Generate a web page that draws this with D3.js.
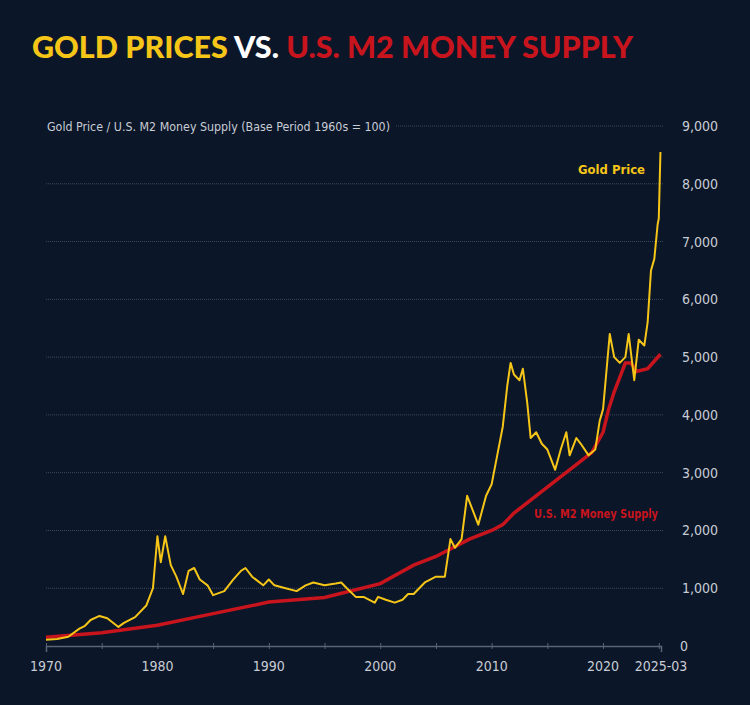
<!DOCTYPE html>
<html><head><meta charset="utf-8">
<script src="https://cdn.jsdelivr.net/npm/d3@7"></script>
<style>
body{margin:0;background:#0b1629;}
svg{display:block;}
.lbl{font-family:"DejaVu Sans Condensed","DejaVu Sans",sans-serif;}
</style></head>
<body><svg id="c" width="750" height="705"></svg>
<script>
var goldYears = [1970,1971,1972,1973,1973.5,1974,1974.8,1975.5,1976.5,1977,1978,1979,1979.6,1980,1980.3,1980.7,1981.2,1981.7,1982.3,1982.8,1983.3,1983.8,1984.5,1985,1986,1986.8,1987.5,1987.9,1988.5,1989.5,1990,1990.5,1991.5,1992.5,1993.3,1994,1995,1996,1996.5,1997,1997.8,1998.5,1999.5,1999.8,2000.5,2001.3,2002,2002.5,2003,2003.5,2004,2005,2005.8,2006.3,2006.7,2007.3,2007.8,2008.4,2008.8,2009.5,2010,2010.5,2011,2011.4,2011.7,2012,2012.5,2012.8,2013.2,2013.5,2014,2014.5,2015,2015.7,2016.2,2016.7,2017,2017.6,2018,2018.7,2019.3,2019.7,2020,2020.6,2021,2021.5,2022,2022.3,2022.8,2023.2,2023.7,2024,2024.3,2024.6,2024.9,2025.0,2025.15];
var goldValues = [110,120,160,300,350,450,520,480,330,400,500,700,1000,1900,1450,1900,1400,1200,900,1300,1350,1150,1050,880,950,1150,1300,1350,1200,1050,1150,1050,1000,950,1050,1100,1050,1080,1100,1000,850,850,750,850,800,750,800,900,900,1000,1100,1200,1200,1850,1700,1850,2600,2300,2100,2600,2800,3300,3800,4500,4900,4700,4600,4800,4200,3600,3700,3500,3400,3050,3400,3700,3300,3600,3500,3300,3400,3900,4100,5400,5000,4900,5000,5400,4600,5300,5200,5600,6500,6700,7300,7400,8550];
var m2Years = [1970,1975,1980,1985,1990,1995,2000,2003,2005,2008,2010,2011,2012,2015,2018,2019,2020,2020.5,2021,2022,2022.5,2023,2024,2025.15];
var m2Values = [150,230,360,560,760,840,1080,1400,1550,1850,2000,2100,2300,2750,3200,3350,3700,4100,4400,4900,4900,4750,4800,5050];
var yTicks = [0,1000,2000,3000,4000,5000,6000,7000,8000,9000];
var xTickLabels = [1970,1980,1990,2000,2010,2020];

var svg = d3.select("#c");
var x = d3.scaleLinear().domain([1970,2025.2]).range([46,661]);
var y = d3.scaleLinear().domain([0,9000]).range([646,126]);
var gold = "#f5c518", red = "#c8141c";

var t = svg.append("text").attr("x",32).attr("y",58).attr("textLength",601).attr("lengthAdjust","spacingAndGlyphs")
  .style("font-family","Lato, 'Open Sans', sans-serif").style("font-weight","900").style("font-size","30px");
t.append("tspan").attr("fill",gold).text("GOLD PRICES ");
t.append("tspan").attr("fill","#fff").text("VS. ");
t.append("tspan").attr("fill",red).text("U.S. M2 MONEY SUPPLY");

// grid
yTicks.forEach(function(v){
  if(v==0) return;
  svg.append("line").attr("x1", v==9000 ? 396 : 46).attr("x2",663)
    .attr("y1",y(v)).attr("y2",y(v))
    .attr("stroke","#56606f").attr("stroke-width",0.7).attr("stroke-dasharray","1,1");
  svg.append("text").attr("class","lbl").attr("x",682).attr("y",y(v)+5)
    .attr("fill","#c8ccd4").style("font-size","14px").text(d3.format(",")(v));
});
svg.append("text").attr("class","lbl").attr("x",680).attr("y",y(0)+5)
  .attr("fill","#c8ccd4").style("font-size","14px").text("0");

svg.append("text").attr("class","lbl").attr("x",47).attr("y",y(9000)+5)
  .attr("textLength",343).attr("lengthAdjust","spacingAndGlyphs")
  .attr("fill","#c8ccd4").style("font-size","13px").text("Gold Price / U.S. M2 Money Supply (Base Period 1960s = 100)");

// x axis
var ax = svg.append("g").attr("transform","translate(0,"+y(0)+")")
  .call(d3.axisBottom(x).tickValues(d3.range(1970,2026,5)).tickSize(6).tickFormat(""));
ax.select(".domain").attr("stroke","#5a6475").attr("stroke-width",1.5);
ax.selectAll(".tick line").attr("stroke","#5a6475").attr("y1",-3).attr("y2",3);
xTickLabels.concat(["2025-03"]).forEach(function(d){
  var xv = d=="2025-03" ? 2025.2 : d;
  svg.append("text").attr("class","lbl").attr("x",x(xv)).attr("y",671)
    .attr("text-anchor","middle").attr("fill","#c8ccd4").style("font-size","14px").text(d);
});

var line = d3.line().x(function(d){return x(d[0]);}).y(function(d){return y(d[1]);});
svg.append("path").attr("d",line(d3.zip(m2Years,m2Values)))
  .attr("fill","none").attr("stroke",red).attr("stroke-width",3.5);
svg.append("path").attr("d",line(d3.zip(goldYears,goldValues)))
  .attr("fill","none").attr("stroke",gold).attr("stroke-width",2).attr("stroke-linejoin","round");

svg.append("text").attr("class","lbl").attr("x",578).attr("y",174)
  .attr("textLength",67).attr("lengthAdjust","spacingAndGlyphs")
  .attr("fill",gold).style("font-size","13px").style("font-weight","bold").text("Gold Price");
svg.append("text").attr("class","lbl").attr("x",534).attr("y",518)
  .attr("textLength",124).attr("lengthAdjust","spacingAndGlyphs")
  .attr("fill",red).style("font-size","13px").style("font-weight","bold").text("U.S. M2 Money Supply");
</script></body></html>
